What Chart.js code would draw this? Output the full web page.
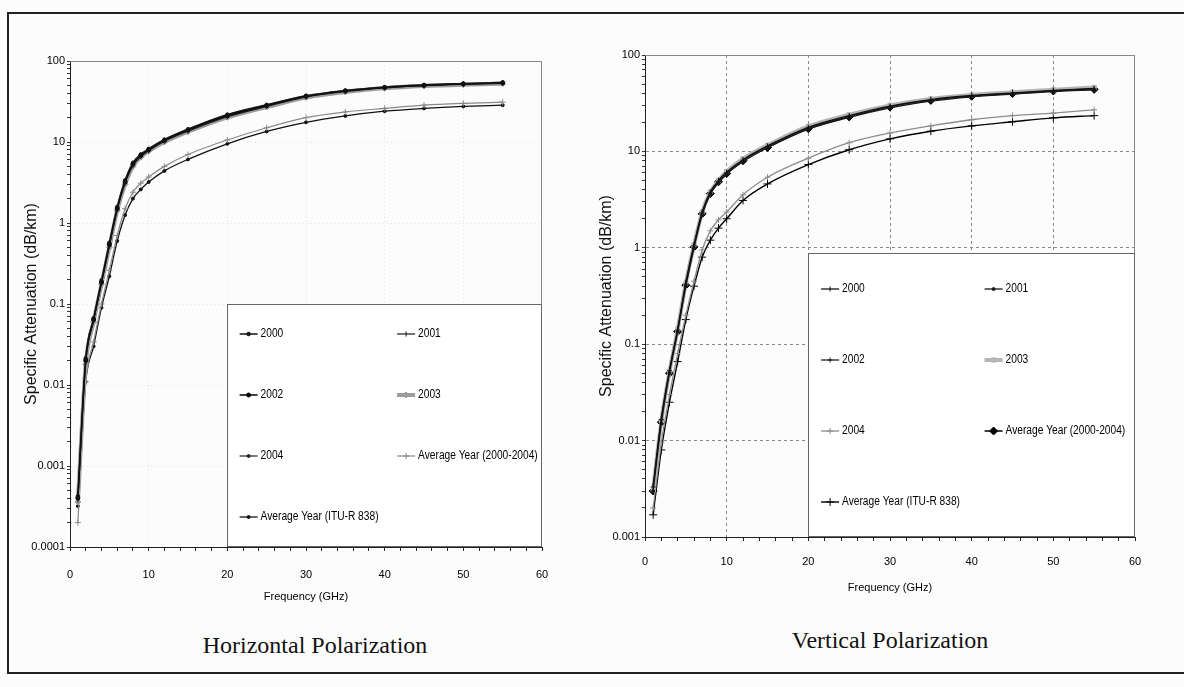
<!DOCTYPE html>
<html>
<head>
<meta charset="utf-8">
<script src="https://cdn.jsdelivr.net/npm/chart.js@4.4.1/dist/chart.umd.min.js"></script>
<style>
  html, body { margin: 0; padding: 0; background: #fcfcfc; }
  body { width: 1184px; height: 687px; position: relative; overflow: hidden; }
  #frame { position: absolute; left: 7px; top: 12px; width: 1200px; height: 658px;
           border: 2px solid #222; border-right: none; }
  canvas { position: absolute; top: 0; }
  #hChart { left: 0; }
  #vChart { left: 590px; }
  .caption { position: absolute; font-family: 'Liberation Serif', 'Times New Roman', serif;
             font-size: 24px; line-height: 26px; color: #111; white-space: nowrap;
             transform: translateX(-50%); }
</style>
</head>
<body>
<div id="frame"></div>
<canvas id="hChart" width="600" height="620"></canvas>
<canvas id="vChart" width="594" height="620"></canvas>
<div class="caption" style="left:315px; top:632px;">Horizontal Polarization</div>
<div class="caption" style="left:890px; top:627px;">Vertical Polarization</div>

<script>
// ---- データ ----
const freq = [1, 2, 3, 4, 5, 6, 7, 8, 9, 10, 12, 15, 20, 25, 30, 35, 40, 45, 50, 55];
const seriesLabels = ['2000', '2001', '2002', '2003', '2004',
                      'Average Year (2000-2004)', 'Average Year (ITU-R 838)'];

// Horizontal polarization
const h2000 = [0.00042, 0.021, 0.066, 0.19, 0.56, 1.55, 3.3, 5.4, 6.9, 8.1, 10.6, 14.2, 21.5, 28.5, 37, 43, 47.5, 50.5, 52.5, 54];
const h2001 = [0.00038, 0.019, 0.062, 0.18, 0.52, 1.45, 3.1, 5.1, 6.6, 7.8, 10.2, 13.6, 20.5, 27.5, 36, 42, 46.5, 49.5, 51.5, 53];
const h2002 = [0.0004, 0.02, 0.064, 0.185, 0.54, 1.5, 3.2, 5.3, 6.8, 8.0, 10.4, 14, 21, 28, 36.5, 42.5, 47, 50, 52, 53.5];
const h2003 = [0.00036, 0.018, 0.06, 0.175, 0.5, 1.42, 3.0, 5.0, 6.5, 7.7, 10.0, 13.4, 20.2, 27, 35.5, 41.5, 46, 49, 51, 52.5];
const h2004 = [0.00044, 0.022, 0.068, 0.2, 0.58, 1.6, 3.4, 5.6, 7.1, 8.3, 10.8, 14.5, 22, 29, 37.5, 43.5, 48, 51, 53, 55];
const hAvg  = [0.0002, 0.011, 0.034, 0.1, 0.26, 0.7, 1.5, 2.4, 3.1, 3.7, 5.0, 7.0, 10.6, 15, 20, 23.5, 26, 28.5, 30, 31];
const hItu  = [0.00032, 0.011, 0.03, 0.09, 0.22, 0.6, 1.25, 2.0, 2.6, 3.2, 4.4, 6.1, 9.5, 13.5, 17.5, 21, 24, 26, 27.5, 28.5];

// Vertical polarization
const v2000 = [0.0034, 0.017, 0.054, 0.145, 0.44, 1.08, 2.35, 3.8, 5.0, 6.1, 8.2, 11.4, 17.8, 23.5, 29.5, 34.5, 38, 40.5, 43, 45];
const v2001 = [0.003, 0.015, 0.05, 0.135, 0.4, 1.0, 2.2, 3.6, 4.7, 5.8, 7.8, 10.9, 17, 22.5, 28.3, 33.2, 36.8, 39.3, 41.8, 43.5];
const v2002 = [0.0033, 0.0165, 0.053, 0.14, 0.42, 1.05, 2.3, 3.7, 4.9, 6.0, 8.1, 11.2, 17.5, 23, 29, 34, 37.5, 40, 42.5, 44.5];
const v2003 = [0.0031, 0.016, 0.052, 0.142, 0.43, 1.07, 2.35, 3.8, 5.0, 6.2, 8.4, 11.6, 18.2, 24, 30, 35, 38.5, 41, 43.5, 46];
const v2004 = [0.002, 0.0095, 0.03, 0.08, 0.2, 0.45, 0.95, 1.5, 1.95, 2.35, 3.55, 5.4, 8.5, 12.3, 15.5, 18.4, 21.3, 23.5, 25, 27];
const vAvg  = [0.003, 0.0155, 0.05, 0.135, 0.41, 1.02, 2.25, 3.65, 4.85, 5.9, 8.0, 11.0, 17.2, 22.8, 28.8, 33.8, 37.3, 39.8, 42.3, 44];
const vItu  = [0.0017, 0.008, 0.025, 0.066, 0.18, 0.4, 0.8, 1.2, 1.6, 2.0, 3.1, 4.6, 7.3, 10.4, 13.5, 16.2, 18.4, 20.3, 22.3, 23.5];

// 目盛りラベル
const xTickLabels = [0, 10, 20, 30, 40, 50, 60];
const hYTickLabels = ['0.0001', '0.001', '0.01', '0.1', '1', '10', '100'];
const vYTickLabels = ['0.001', '0.01', '0.1', '1', '10', '100'];

// ---- 表示設定 ----
const SANS = "'Liberation Sans', Arial, sans-serif";

function makeSet(label, values, style) {
    return Object.assign({
        label: label,
        data: freq.map((f, i) => ({ x: f, y: values[i] })),
        fill: false,
        cubicInterpolationMode: 'monotone',
        pointBorderWidth: 1
    }, style);
}

// 凡例（プロット内の枠付き）
const boxLegend = {
    id: 'boxLegend',
    afterDraw(chart, args, o) {
        const { ctx, chartArea: a, scales: { x, y } } = chart;
        const left = Math.round(x.getPixelForValue(o.xMin));
        const top = Math.round(y.getPixelForValue(o.yMax));
        const w = a.right - left, h = a.bottom - top;
        ctx.save();
        ctx.fillStyle = '#fff';
        ctx.fillRect(left, top, w, h);
        ctx.strokeStyle = '#666';
        ctx.lineWidth = 1;
        ctx.strokeRect(left + 0.5, top + 0.5, w - 1, h - 1);
        chart.data.datasets.forEach((ds, i) => {
            const cx = left + w * (i % 2 ? 0.54 : 0.04);
            const cy = Math.round(top + h * (Math.floor(i / 2) + 0.5) / 4);
            ctx.strokeStyle = ds.borderColor;
            ctx.lineWidth = ds.borderWidth;
            ctx.beginPath();
            ctx.moveTo(cx, cy);
            ctx.lineTo(cx + 18, cy);
            ctx.stroke();
            ctx.fillStyle = ds.pointBackgroundColor;
            ctx.strokeStyle = ds.pointBorderColor;
            ctx.lineWidth = 1;
            if (Chart.helpers && Chart.helpers.drawPoint) {
                Chart.helpers.drawPoint(ctx, { pointStyle: ds.pointStyle, radius: ds.pointRadius, borderWidth: 1, rotation: ds.pointRotation || 0 }, cx + 9, cy);
            }
            // 細めの書体に見せるため横方向だけ縮める
            ctx.save();
            ctx.translate(cx + 21, cy);
            ctx.scale(0.85, 1);
            ctx.font = '12px ' + SANS;
            ctx.textBaseline = 'middle';
            ctx.fillStyle = '#000';
            ctx.fillText(ds.label, 0, 0);
            ctx.restore();
        });
        ctx.restore();
    }
};

// プロット領域の上・右の枠線
const plotFrame = {
    id: 'plotFrame',
    afterDatasetsDraw(chart, args, o) {
        const { ctx, chartArea: a } = chart;
        ctx.save();
        ctx.strokeStyle = o.color;
        ctx.lineWidth = 1;
        ctx.beginPath();
        ctx.moveTo(a.left, a.top + 0.5);
        ctx.lineTo(a.right - 0.5, a.top + 0.5);
        ctx.lineTo(a.right - 0.5, a.bottom);
        ctx.stroke();
        ctx.restore();
    }
};

function isDecade(v) {
    const l = Math.log10(v);
    return Math.abs(l - Math.round(l)) < 1e-9;
}

function makeChart(id, datasets, opt) {
    const minExp = Math.round(Math.log10(opt.yMin));
    const maxExp = Math.round(Math.log10(opt.yMax));
    return new Chart(document.getElementById(id), {
        type: 'line',
        data: { datasets: datasets },
        plugins: [plotFrame, boxLegend],
        options: {
            responsive: false,
            animation: false,
            devicePixelRatio: 1,
            layout: { padding: { left: 0, top: opt.top, right: opt.right, bottom: 0 } },
            plugins: {
                legend: { display: false },
                tooltip: { enabled: false },
                plotFrame: { color: '#888' },
                boxLegend: { xMin: 20, yMax: opt.legendTop }
            },
            scales: {
                x: {
                    type: 'linear',
                    min: 0, max: 60,
                    afterFit: s => { s.height = opt.xHeight; },
                    ticks: {
                        stepSize: 2, autoSkip: false, maxRotation: 0,
                        padding: opt.xTickPad, color: '#000',
                        font: { family: SANS, size: 11 },
                        callback: v => xTickLabels.includes(v) ? String(v) : ''
                    },
                    grid: {
                        color: c => (c.tick && xTickLabels.includes(c.tick.value) && c.tick.value > 0 && c.tick.value < 60) ? opt.gridColor : 'rgba(0,0,0,0)',
                        tickColor: '#222', tickLength: 4, tickBorderDash: []
                    },
                    border: { color: '#222', width: 1, dash: opt.gridDash },
                    title: {
                        display: true, text: 'Frequency (GHz)', color: '#000',
                        font: { family: SANS, size: 11 },
                        padding: { top: 0, bottom: opt.xTitlePad }
                    }
                },
                y: {
                    type: 'logarithmic',
                    min: opt.yMin, max: opt.yMax,
                    afterFit: s => { s.width = opt.yWidth; },
                    afterBuildTicks: s => {
                        const t = [];
                        for (let e = minExp; e < maxExp; e++) {
                            for (let m = 1; m < 10; m++) t.push({ value: m * Math.pow(10, e) });
                        }
                        t.push({ value: Math.pow(10, maxExp) });
                        s.ticks = t;
                    },
                    ticks: {
                        autoSkip: false, padding: 2, color: '#000',
                        font: { family: SANS, size: 11 },
                        callback: v => isDecade(v) ? opt.yLabels[Math.round(Math.log10(v)) - minExp] : ''
                    },
                    grid: {
                        color: c => (c.tick && isDecade(c.tick.value) && c.tick.value > opt.yMin) ? opt.gridColor : 'rgba(0,0,0,0)',
                        tickColor: '#333', tickLength: 3, tickBorderDash: []
                    },
                    border: { color: '#222', width: 1, dash: opt.gridDash },
                    title: {
                        display: true, text: 'Specific Attenuation (dB/km)', color: '#111',
                        font: { family: SANS, size: 16 },
                        padding: { top: opt.yTitlePad, bottom: 0 }
                    }
                }
            }
        }
    });
}

// ---- 水平偏波 ----
const hSets = [
    makeSet(seriesLabels[0], h2000, { borderColor: '#111', borderWidth: 1.5, pointStyle: 'circle', pointRadius: 1.8, pointBackgroundColor: '#111', pointBorderColor: '#111' }),
    makeSet(seriesLabels[1], h2001, { borderColor: '#1a1a1a', borderWidth: 1.2, pointStyle: 'line', pointRadius: 2.5, pointRotation: 90, pointBackgroundColor: '#1a1a1a', pointBorderColor: '#1a1a1a' }),
    makeSet(seriesLabels[2], h2002, { borderColor: '#000', borderWidth: 1.5, pointStyle: 'circle', pointRadius: 2, pointBackgroundColor: '#000', pointBorderColor: '#000' }),
    makeSet(seriesLabels[3], h2003, { borderColor: '#9c9c9c', borderWidth: 4, pointStyle: 'rectRot', pointRadius: 3, pointBackgroundColor: '#9c9c9c', pointBorderColor: '#9c9c9c' }),
    makeSet(seriesLabels[4], h2004, { borderColor: '#222', borderWidth: 1.2, pointStyle: 'circle', pointRadius: 1.5, pointBackgroundColor: '#222', pointBorderColor: '#222' }),
    makeSet(seriesLabels[5], hAvg,  { borderColor: '#8a8a8a', borderWidth: 1.2, pointStyle: 'cross', pointRadius: 3, pointBackgroundColor: '#8a8a8a', pointBorderColor: '#8a8a8a' }),
    makeSet(seriesLabels[6], hItu,  { borderColor: '#111', borderWidth: 1.3, pointStyle: 'circle', pointRadius: 1.5, pointBackgroundColor: '#111', pointBorderColor: '#111' })
];

makeChart('hChart', hSets, {
    top: 61, right: 58, yWidth: 70, xHeight: 73,
    xTickPad: 17, xTitlePad: 16, yTitlePad: 22,
    yMin: 0.0001, yMax: 100, yLabels: hYTickLabels, legendTop: 0.1,
    gridColor: 'rgba(0,0,0,0.10)', gridDash: [1, 3]
});

// ---- 垂直偏波 ----
const vSets = [
    makeSet(seriesLabels[0], v2000, { borderColor: '#111', borderWidth: 1.3, pointStyle: 'line', pointRadius: 2.5, pointRotation: 90, pointBackgroundColor: '#111', pointBorderColor: '#111' }),
    makeSet(seriesLabels[1], v2001, { borderColor: '#1a1a1a', borderWidth: 1.3, pointStyle: 'circle', pointRadius: 1.5, pointBackgroundColor: '#1a1a1a', pointBorderColor: '#1a1a1a' }),
    makeSet(seriesLabels[2], v2002, { borderColor: '#222', borderWidth: 1.3, pointStyle: 'cross', pointRadius: 2.5, pointBackgroundColor: '#222', pointBorderColor: '#222' }),
    makeSet(seriesLabels[3], v2003, { borderColor: '#b5b5b5', borderWidth: 4, pointStyle: 'rect', pointRadius: 3, pointBackgroundColor: '#b5b5b5', pointBorderColor: '#b5b5b5' }),
    makeSet(seriesLabels[4], v2004, { borderColor: '#8c8c8c', borderWidth: 1.3, pointStyle: 'cross', pointRadius: 3, pointBackgroundColor: '#8c8c8c', pointBorderColor: '#8c8c8c' }),
    makeSet(seriesLabels[5], vAvg,  { borderColor: '#000', borderWidth: 1.5, pointStyle: 'rectRot', pointRadius: 4, pointBackgroundColor: '#000', pointBorderColor: '#000' }),
    makeSet(seriesLabels[6], vItu,  { borderColor: '#000', borderWidth: 1.4, pointStyle: 'cross', pointRadius: 4, pointBackgroundColor: '#000', pointBorderColor: '#000' })
];

makeChart('vChart', vSets, {
    top: 55, right: 49, yWidth: 55, xHeight: 83,
    xTickPad: 14, xTitlePad: 25, yTitlePad: 7,
    yMin: 0.001, yMax: 100, yLabels: vYTickLabels, legendTop: 0.88,
    gridColor: '#8a8a8a', gridDash: [3, 3]
});
</script>
</body>
</html>
